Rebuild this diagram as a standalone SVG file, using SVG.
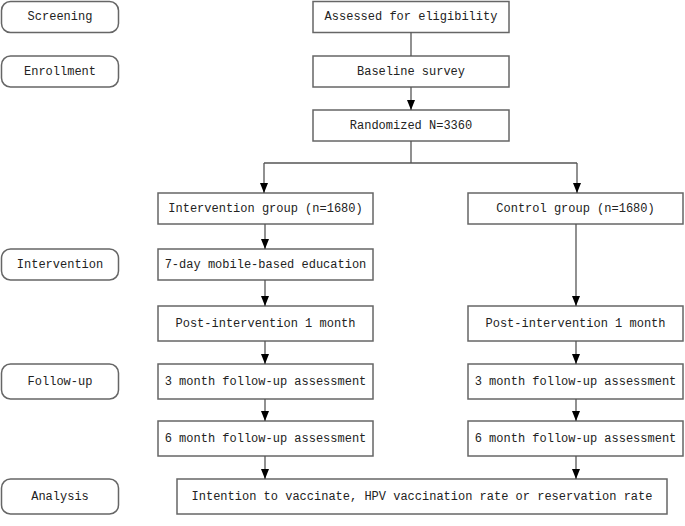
<svg xmlns="http://www.w3.org/2000/svg" width="685" height="526" viewBox="0 0 685 526">
<style>
.stage{fill:#fff;stroke:#666;stroke-width:1.5}
.box{fill:#fff;stroke:#666;stroke-width:1.5}
.t{font-family:"Liberation Mono","DejaVu Sans Mono",monospace;font-size:12px;fill:#222;text-anchor:middle;dominant-baseline:central}
.c{fill:none;stroke:#555;stroke-width:1.3}
</style>
<defs>
<marker id="ah" viewBox="0 0 10 8" refX="10" refY="4" markerWidth="10" markerHeight="8" markerUnits="userSpaceOnUse" orient="auto">
<path d="M0,0 L10,4 L0,8 z" fill="#000"/>
</marker>
</defs>
<rect width="685" height="526" fill="#fff"/>
<g id="stage-screening"><rect class="stage" x="1.5" y="1.5" width="117" height="31" rx="9"/><text class="t" x="60" y="17">Screening</text></g>
<g id="stage-enrollment"><rect class="stage" x="1.5" y="56" width="117" height="31" rx="9"/><text class="t" x="60" y="71.5">Enrollment</text></g>
<g id="stage-intervention"><rect class="stage" x="1.5" y="249" width="117" height="31" rx="9"/><text class="t" x="60" y="264.5">Intervention</text></g>
<g id="stage-followup"><rect class="stage" x="1.5" y="364" width="117" height="35" rx="9"/><text class="t" x="60" y="381.5">Follow-up</text></g>
<g id="stage-analysis"><rect class="stage" x="1.5" y="479" width="117" height="35" rx="9"/><text class="t" x="60" y="496.5">Analysis</text></g>

<g id="assessed"><rect class="box" x="313" y="1.5" width="196" height="31"/><text class="t" x="411" y="17">Assessed for eligibility</text></g>
<g id="baseline"><rect class="box" x="313" y="56" width="196" height="31"/><text class="t" x="411" y="71.5">Baseline survey</text></g>
<g id="randomized"><rect class="box" x="313" y="110" width="196" height="31"/><text class="t" x="411" y="125.5">Randomized N=3360</text></g>

<g id="intervention-group"><rect class="box" x="158" y="193" width="215" height="31"/><text class="t" x="265.5" y="208.5">Intervention group (n=1680)</text></g>
<g id="control-group"><rect class="box" x="468" y="193" width="215" height="31"/><text class="t" x="575.5" y="208.5">Control group (n=1680)</text></g>
<g id="education"><rect class="box" x="158" y="249" width="215" height="31"/><text class="t" x="265.5" y="264.5">7-day mobile-based education</text></g>
<g id="post-left"><rect class="box" x="158" y="306" width="215" height="35"/><text class="t" x="265.5" y="323.5">Post-intervention 1 month</text></g>
<g id="post-right"><rect class="box" x="468" y="306" width="215" height="35"/><text class="t" x="575.5" y="323.5">Post-intervention 1 month</text></g>
<g id="m3-left"><rect class="box" x="158" y="364" width="215" height="35"/><text class="t" x="265.5" y="381.5">3 month follow-up assessment</text></g>
<g id="m3-right"><rect class="box" x="468" y="364" width="215" height="35"/><text class="t" x="575.5" y="381.5">3 month follow-up assessment</text></g>
<g id="m6-left"><rect class="box" x="158" y="421" width="215" height="35"/><text class="t" x="265.5" y="438.5">6 month follow-up assessment</text></g>
<g id="m6-right"><rect class="box" x="468" y="421" width="215" height="35"/><text class="t" x="575.5" y="438.5">6 month follow-up assessment</text></g>
<g id="outcome"><rect class="box" x="177" y="479" width="490" height="35"/><text class="t" x="422" y="496.5">Intention to vaccinate, HPV vaccination rate or reservation rate</text></g>

<g id="connectors">
<path class="c" d="M411,32.5 V56"/>
<path class="c" d="M411,87 V110" marker-end="url(#ah)"/>
<path class="c" d="M411,141 V163 M264,163 H577"/>
<path class="c" d="M264,163 V193" marker-end="url(#ah)"/>
<path class="c" d="M577,163 V193" marker-end="url(#ah)"/>
<path class="c" d="M265,224 V249" marker-end="url(#ah)"/>
<path class="c" d="M265,280 V306" marker-end="url(#ah)"/>
<path class="c" d="M265,341 V364" marker-end="url(#ah)"/>
<path class="c" d="M265,399 V421" marker-end="url(#ah)"/>
<path class="c" d="M265,456 V479" marker-end="url(#ah)"/>
<path class="c" d="M576,224 V306" marker-end="url(#ah)"/>
<path class="c" d="M576,341 V364" marker-end="url(#ah)"/>
<path class="c" d="M576,399 V421" marker-end="url(#ah)"/>
<path class="c" d="M576,456 V479" marker-end="url(#ah)"/>
</g>
</svg>
